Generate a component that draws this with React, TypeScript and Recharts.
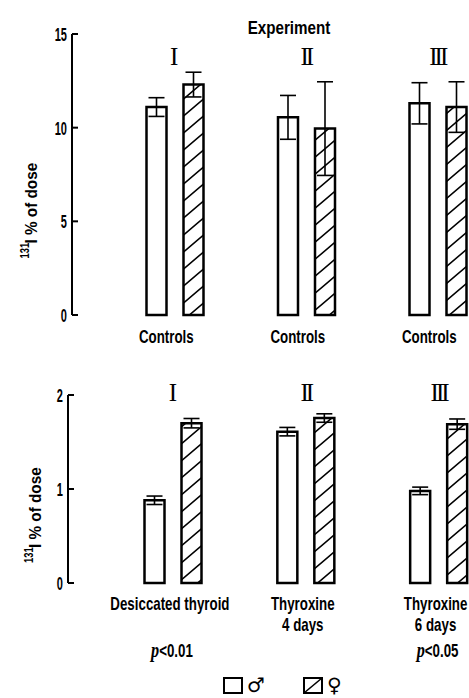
import React from 'react';
import { BarChart, Bar, XAxis, YAxis, ErrorBar } from 'recharts';

const experiments = ['I', 'II', 'III'];
const topLabels = ['Controls', 'Controls', 'Controls'];
const topMale = [11.1, 10.55, 11.3];
const topMaleErr = [0.5, 1.17, 1.1];
const topFemale = [12.3, 9.95, 11.1];
const topFemaleErr = [0.66, 2.5, 1.35];
const topTicks = [0, 5, 10, 15];

const bottomLabels = [['Desiccated thyroid'], ['Thyroxine', '4 days'], ['Thyroxine', '6 days']];
const bottomP = ['<0.01', '', '<0.05'];
const bottomMale = [0.88, 1.61, 0.98];
const bottomMaleErr = [0.045, 0.045, 0.04];
const bottomFemale = [1.7, 1.755, 1.69];
const bottomFemaleErr = [0.05, 0.045, 0.055];
const bottomTicks = [0, 1, 2];

const topData = experiments.map((g, i) => ({
  group: g,
  male: topMale[i],
  maleErr: topMaleErr[i],
  female: topFemale[i],
  femaleErr: topFemaleErr[i],
}));
const bottomData = experiments.map((g, i) => ({
  group: g,
  male: bottomMale[i],
  maleErr: bottomMaleErr[i],
  female: bottomFemale[i],
  femaleErr: bottomFemaleErr[i],
}));

const FONT = "'Liberation Sans', Arial, sans-serif";
const SERIF = "'Liberation Serif', 'DejaVu Serif', serif";
const LABEL_SX = 0.74;
const TICK_SX = 0.58;
const WEIGHT = 'bold';

const Condensed = (props: any) => {
  const { x, y, sx, anchor = 'middle', size = 18, family = FONT, children, ...rest } = props;
  return (
    <text
      transform={`translate(${x},${y}) scale(${sx},1)`}
      x={0}
      y={0}
      dy="0.36em"
      textAnchor={anchor}
      fontSize={size}
      fontFamily={family}
      fontWeight={WEIGHT}
      fill="#000"
      {...rest}
    >
      {children}
    </text>
  );
};

const Numeral = ({ x, y, value }: { x: number; y: number; value: string }) => (
  <text
    x={x}
    y={y}
    dy="0.34em"
    textAnchor="middle"
    fontSize={25}
    fontFamily={SERIF}
    letterSpacing={value.length > 1 ? -3 : 0}
    fill="#000"
  >
    {value}
  </text>
);

const YTick = (props: any) => {
  const { x, y, payload } = props;
  return (
    <g>
      <Condensed x={x - 5} y={y} sx={TICK_SX} anchor="end" size={19}>
        {payload.value}
      </Condensed>
      <line x1={x} x2={x + 6} y1={y} y2={y} stroke="#000" strokeWidth={2} />
    </g>
  );
};

const TopXTick = (props: any) => {
  const { x, y, index } = props;
  return (
    <g>
      <Condensed x={x - 9} y={y + 22} sx={LABEL_SX}>
        {topLabels[index]}
      </Condensed>
      <Numeral x={x - 1} y={y - 259} value={experiments[index]} />
    </g>
  );
};

const BottomXTick = (props: any) => {
  const { x, y, index } = props;
  const lines = bottomLabels[index];
  return (
    <g>
      {lines.map((l, k) => (
        <Condensed key={k} x={x - 3} y={y + 21 + k * 21} sx={LABEL_SX}>
          {l}
        </Condensed>
      ))}
      {bottomP[index] ? (
        <Condensed x={x - 1} y={y + 68} sx={LABEL_SX}>
          <tspan fontStyle="italic" fontFamily={SERIF} fontSize={22}>p</tspan>
          <tspan>{bottomP[index]}</tspan>
        </Condensed>
      ) : null}
      <Numeral x={x} y={y - 191} value={experiments[index]} />
    </g>
  );
};

const makeYLabel = (bx: number, startOff: number) => (props: any) => {
  const vb = props.viewBox || {};
  const by = (vb.y || 0) + (vb.height || 0) / 2 + startOff;
  return (
    <g transform={`translate(${bx},${by}) rotate(-90)`}>
      <text transform="translate(0,-8) scale(0.72,1)" fontSize={13} fontWeight={WEIGHT} fontFamily={FONT} fill="#000">
        131
      </text>
      <text transform="translate(15,0) scale(0.9,1)" fontSize={17} fontWeight={WEIGHT} fontFamily={FONT} fill="#000">
        I % of dose
      </text>
    </g>
  );
};

const Hatch = ({ id }: { id: string }) => (
  <defs>
    <pattern id={id} patternUnits="userSpaceOnUse" width={20} height={17}>
      <path d="M0,17 L20,0 M-2,1.7 L2,-1.7 M18,18.7 L22,15.3" stroke="#000" strokeWidth={1.6} />
    </pattern>
  </defs>
);

export default function App() {
  return (
    <div
      style={{
        position: 'absolute',
        left: 0,
        top: 0,
        width: 469,
        height: 698,
        overflow: 'hidden',
        background: '#fff',
      }}
    >
      <div style={{ position: 'absolute', left: 0, top: 0 }}>
        <BarChart
          width={504}
          height={360}
          data={topData}
          margin={{ top: 34, right: 0, left: 0, bottom: 5 }}
          barGap={17}
        >
          <Hatch id="hatchTop" />
          <YAxis
            width={72}
            domain={[0, 15]}
            ticks={topTicks}
            interval={0}
            axisLine={{ stroke: '#000', strokeWidth: 2 }}
            tickLine={false}
            tickSize={0}
            tickMargin={0}
            tick={<YTick />}
            label={{ content: makeYLabel(37, 84) }}
          />
          <XAxis
            dataKey="group"
            axisLine={false}
            tickLine={false}
            tickSize={0}
            tickMargin={0}
            height={40}
            interval={0}
            padding={{ left: 37.5, right: 0 }}
            tick={<TopXTick />}
          />
          <Bar dataKey="male" barSize={20} fill="#fff" stroke="#000" strokeWidth={2.5} isAnimationActive={false}>
            <ErrorBar dataKey="maleErr" width={8} stroke="#000" strokeWidth={1.6} />
          </Bar>
          <Bar dataKey="female" barSize={20} fill="url(#hatchTop)" stroke="#000" strokeWidth={2.5} isAnimationActive={false}>
            <ErrorBar dataKey="femaleErr" width={8} stroke="#000" strokeWidth={1.6} />
          </Bar>
        </BarChart>
      </div>
      <div style={{ position: 'absolute', left: 0, top: 360 }}>
        <BarChart
          width={505}
          height={338}
          data={bottomData}
          margin={{ top: 35, right: 0, left: 0, bottom: 5 }}
          barGap={17}
        >
          <Hatch id="hatchBottom" />
          <YAxis
            width={68}
            domain={[0, 2]}
            ticks={bottomTicks}
            interval={0}
            axisLine={{ stroke: '#000', strokeWidth: 2 }}
            tickLine={false}
            tickSize={0}
            tickMargin={0}
            tick={<YTick />}
            label={{ content: makeYLabel(41, 74) }}
          />
          <XAxis
            dataKey="group"
            axisLine={false}
            tickLine={false}
            tickSize={0}
            tickMargin={0}
            height={110}
            interval={0}
            padding={{ left: 38.5, right: 0 }}
            tick={<BottomXTick />}
          />
          <Bar dataKey="male" barSize={20} fill="#fff" stroke="#000" strokeWidth={2.5} isAnimationActive={false}>
            <ErrorBar dataKey="maleErr" width={8} stroke="#000" strokeWidth={1.6} />
          </Bar>
          <Bar dataKey="female" barSize={20} fill="url(#hatchBottom)" stroke="#000" strokeWidth={2.5} isAnimationActive={false}>
            <ErrorBar dataKey="femaleErr" width={8} stroke="#000" strokeWidth={1.6} />
          </Bar>
        </BarChart>
      </div>
      <svg
        width={469}
        height={698}
        style={{ position: 'absolute', left: 0, top: 0, pointerEvents: 'none' }}
      >
        <Condensed x={289} y={27} sx={0.8} size={19}>
          Experiment
        </Condensed>
        <rect x={224} y={678} width={18} height={15} fill="#fff" stroke="#000" strokeWidth={2} />
        <text x={247} y={692} fontSize={20} fontWeight="bold" fontFamily="'DejaVu Sans', sans-serif" fill="#000">♂</text>
        <rect x={304} y={678} width={18} height={15} fill="#fff" stroke="#000" strokeWidth={2} />
        <line x1={304} y1={693} x2={322} y2={678} stroke="#000" strokeWidth={1.6} />
        <text x={327} y={692} fontSize={20} fontWeight="bold" fontFamily="'DejaVu Sans', sans-serif" fill="#000">♀</text>
      </svg>
    </div>
  );
}
